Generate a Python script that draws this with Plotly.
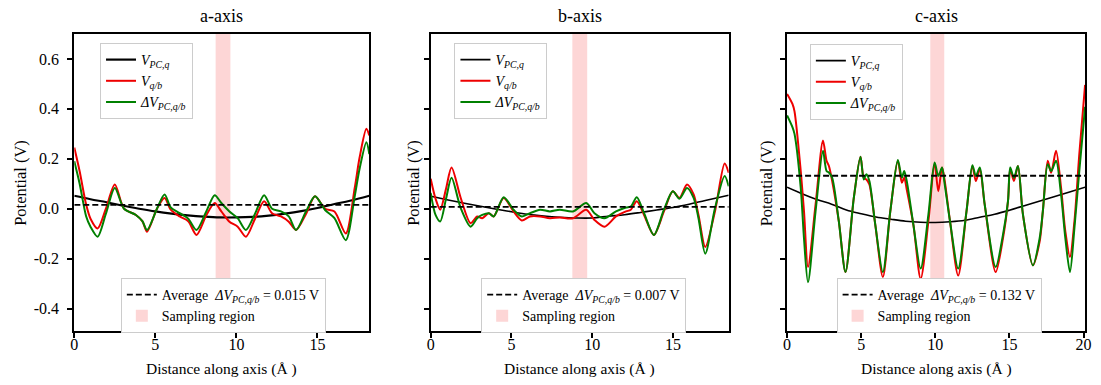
import plotly.graph_objects as go

# ---------------- data ----------------
y_tickvals = [-0.4, -0.2, 0.0, 0.2, 0.4, 0.6]
y_ticktext = ["-0.4", "-0.2", "0.0", "0.2", "0.4", "0.6"]

# a-axis
a_x = [0, 0.33, 0.73, 1.0, 1.44, 1.95, 2.5, 3.07, 3.8, 4.2, 4.49, 5.1, 5.57, 5.95, 6.5, 7.03, 7.54,
       8.15, 8.66, 9.07, 9.57, 10.08, 10.59, 11.15, 11.71, 12.2, 12.75, 13.23, 13.68, 14.3, 14.85,
       15.47, 16.05, 16.75, 17.3, 17.6, 18.02, 18.2]
a_red = [0.245, 0.15, 0.017, -0.04, -0.079, 0.0, 0.097, 0.0, -0.025, -0.05, -0.092, 0.0, 0.043, -0.004,
         -0.031, -0.05, -0.105, -0.025, 0.023, -0.011, -0.052, -0.072, -0.112, -0.04, 0.03, -0.018,
         -0.031, -0.052, -0.085, -0.02, 0.05, 0.0, -0.011, -0.099, 0.083, 0.205, 0.32, 0.293]
a_green = [0.19, 0.1, -0.03, -0.072, -0.112, -0.02, 0.083, 0.0, -0.025, -0.05, -0.085, 0.0, 0.057, 0.005,
           -0.018, -0.04, -0.085, -0.01, 0.054, 0.023, -0.011, -0.038, -0.085, -0.02, 0.054, 0.0,
           -0.011, -0.031, -0.085, -0.01, 0.05, -0.005, -0.038, -0.126, 0.05, 0.16, 0.266, 0.219]
a_pc_x = [0, 1, 2, 3, 4, 5, 6, 7, 8, 9, 10, 11, 12, 13, 14, 15, 16, 17, 18.2]
a_pc = [0.052, 0.038, 0.026, 0.012, 0.0, -0.011, -0.02, -0.027, -0.032, -0.035, -0.035, -0.033,
        -0.028, -0.02, -0.01, 0.003, 0.018, 0.032, 0.052]
a_avg = 0.015
a_len = 18.2
a_sample = [8.72, 9.63]

# b-axis
b_x = [0, 0.3, 0.59, 0.95, 1.29, 1.86, 2.47, 2.88, 3.19, 3.6, 3.9, 4.52, 5.13, 5.64, 6.15, 6.77, 7.38,
       7.99, 8.81, 9.63, 10.14, 10.76, 11.47, 12.09, 12.39, 12.76, 13.21, 13.82, 14.44, 14.99, 15.4,
       15.87, 16.28, 16.58, 17.0, 17.6, 18.2, 18.45]
b_red = [0.12, 0.04, -0.004, 0.08, 0.165, 0.043, -0.058, -0.031, -0.038, -0.018, -0.031, 0.043, -0.011,
         -0.047, -0.031, -0.031, -0.038, -0.035, -0.038, -0.004, -0.045, -0.072, -0.031, -0.011, -0.004,
         0.03, -0.025, -0.105, -0.011, 0.07, 0.043, 0.097, 0.057, -0.025, -0.153, -0.011, 0.181, 0.144]
b_green = [0.063, -0.025, -0.051, 0.04, 0.124, 0.002, -0.072, -0.038, -0.025, -0.018, -0.031, 0.046,
           -0.004, -0.031, -0.018, -0.004, -0.011, -0.004, -0.011, 0.023, -0.018, -0.038, -0.011, 0.005,
           0.009, 0.046, -0.018, -0.105, -0.004, 0.07, 0.04, 0.083, 0.043, -0.038, -0.18, 0.002, 0.131,
           0.09]
b_pc_x = [0, 1, 2, 3, 4, 5, 6, 7, 8, 9, 10, 11, 12, 13, 14, 15, 16, 17, 18.45]
b_pc = [0.05, 0.036, 0.023, 0.011, -0.001, -0.012, -0.022, -0.029, -0.034, -0.037, -0.037, -0.03,
        -0.024, -0.015, -0.005, 0.005, 0.018, 0.033, 0.054]
b_avg = 0.007
b_len = 18.45
b_sample = [8.77, 9.69]

# c-axis
c_x = [0, 0.36, 0.5, 0.92, 1.14, 1.41, 1.92, 2.42, 2.66, 2.82, 3.04, 3.49, 3.94, 4.5, 4.95, 5.17, 5.35,
       5.55, 5.95, 6.46, 6.96, 7.47, 7.74, 7.9, 8.07, 8.52, 9.01, 9.53, 9.95, 10.2, 10.45, 10.6, 10.99,
       11.54, 12.1, 12.5, 12.73, 13.0, 13.33, 14.07, 14.56, 14.9, 15.05, 15.3, 15.57, 15.91, 16.58,
       17.03, 17.25, 17.58, 17.81, 18.14, 18.48, 18.77, 19.08, 19.38, 19.71, 20.1]
c_red = [0.46, 0.42, 0.39, 0.151, -0.011, -0.234, 0.016, 0.273, 0.192, 0.171, 0.111, -0.051, -0.254,
         0.043, 0.208, 0.124, 0.117, 0.097, -0.065, -0.274, -0.011, 0.192, 0.104, 0.124, 0.077, -0.065,
         -0.281, -0.051, 0.18, 0.07, 0.165, 0.124, -0.051, -0.268, -0.011, 0.171, 0.111, 0.158, 0.016,
         -0.254, -0.119, 0.03, 0.158, 0.111, 0.171, -0.024, -0.227, -0.133, -0.011, 0.192, 0.144, 0.232,
         0.083, -0.092, -0.193, -0.051, 0.219, 0.496]
c_green = [0.374, 0.327, 0.3, 0.083, -0.119, -0.295, -0.011, 0.232, 0.151, 0.145, 0.124, -0.051, -0.254,
           0.043, 0.208, 0.117, 0.138, 0.111, -0.065, -0.254, -0.011, 0.195, 0.124, 0.151, 0.111, -0.065,
           -0.24, -0.024, 0.185, 0.131, 0.165, 0.111, -0.051, -0.24, -0.011, 0.174, 0.131, 0.165, 0.016,
           -0.234, -0.105, 0.03, 0.165, 0.124, 0.171, -0.024, -0.227, -0.12, -0.011, 0.178, 0.151, 0.192,
           0.056, -0.119, -0.254, -0.078, 0.151, 0.408]
c_pc_x = [0, 1, 2, 3, 4, 5, 6, 7, 8, 9, 10, 11, 12, 13, 14, 15, 16, 17, 18, 19, 20.1]
c_pc = [0.086, 0.06, 0.037, 0.018, -0.005, -0.02, -0.033, -0.042, -0.05, -0.054, -0.055, -0.052,
        -0.046, -0.034, -0.022, -0.006, 0.012, 0.03, 0.048, 0.066, 0.086]
c_avg = 0.132
c_len = 20.1
c_sample = [9.66, 10.6]

titles = ["a-axis", "b-axis", "c-axis"]

# ---------------- figure ----------------
W, H = 1101, 385
FONT = "Liberation Serif, Times New Roman, serif"
px_x = [(71, 369), (431, 732), (791, 1092)]
y_top, y_bot = 34, 331
up_leg_pos = [(97, 43), (455, 43), (814, 44)]
low_leg_pos = [(118, 278), (482, 278), (841, 278)]

panels = [
    (a_x, a_red, a_green, a_pc_x, a_pc, a_avg, a_len, a_sample),
    (b_x, b_red, b_green, b_pc_x, b_pc, b_avg, b_len, b_sample),
    (c_x, c_red, c_green, c_pc_x, c_pc, c_avg, c_len, c_sample),
]

fig = go.Figure()
lay = dict(
    width=W, height=H, margin=dict(l=0, r=0, t=0, b=0),
    paper_bgcolor="white", plot_bgcolor="white",
    font=dict(family=FONT, size=15, color="black"),
    annotations=[],
)

lbl_pc = "<i>V</i><sub><i>PC,q</i></sub>"
lbl_qb = "<i>V</i><sub><i>q/b</i></sub>"
lbl_dv = "<i>ΔV</i><sub><i>PC,q/b</i></sub>"

for i, (xs, red, green, pcx, pc, avg, L, samp) in enumerate(panels):
    n = "" if i == 0 else str(i + 1)
    xa, ya = "x" + n, "y" + n
    up = "legend" if i == 0 else "legend" + str(2 * i + 1)
    lo = "legend" + str(2 * i + 2)
    fig.add_trace(go.Scatter(x=pcx, y=pc, mode="lines", name=lbl_pc, xaxis=xa, yaxis=ya,
                             line=dict(color="black", width=1.6 if i else 2.2, shape="spline"), legend=up))
    fig.add_trace(go.Scatter(x=xs, y=red, mode="lines", name=lbl_qb, xaxis=xa, yaxis=ya,
                             line=dict(color="#ee0000", width=2, shape="spline", smoothing=0.8), legend=up))
    fig.add_trace(go.Scatter(x=xs, y=green, mode="lines", name=lbl_dv, xaxis=xa, yaxis=ya,
                             line=dict(color="#008000", width=2, shape="spline", smoothing=0.8), legend=up))
    fig.add_trace(go.Scatter(x=[0, L], y=[avg, avg], mode="lines", xaxis=xa, yaxis=ya,
                             name=f"Average  {lbl_dv} = {avg:.3f} V",
                             line=dict(color="black", width=1.8, dash="6px,3px"), legend=lo, legendrank=1))
    fig.add_shape(type="rect", xref=xa, yref=ya + " domain", x0=samp[0], x1=samp[1], y0=0, y1=1,
                  fillcolor="#fdd6d6", line=dict(width=0), layer="below",
                  showlegend=True, name="Sampling region", legend=lo, legendrank=2)

    x0p, x1p = px_x[i]
    lay["xaxis" + n] = dict(
        domain=[x0p / W, x1p / W], anchor=ya, range=[0, L], tickvals=[0, 5, 10, 15, 20],
        showgrid=False, zeroline=False, showline=True, linecolor="black", linewidth=2, mirror=True,
        ticks="outside", ticklen=5, tickwidth=1.5, tickcolor="black", ticklabelstandoff=-7,
        tickfont=dict(family=FONT, size=16),
    )
    lay["yaxis" + n] = dict(
        domain=[1 - y_bot / H, 1 - y_top / H], anchor=xa, range=[-0.49, 0.70],
        tickvals=y_tickvals, ticktext=y_ticktext if i == 0 else [""] * len(y_tickvals),
        showgrid=False, zeroline=False, showline=True, linecolor="black", linewidth=2, mirror=True,
        ticks="outside", ticklen=5, tickwidth=1.5, tickcolor="black", ticklabelstandoff=5,
        tickfont=dict(family=FONT, size=16),
    )
    ux, uy = up_leg_pos[i]
    lx, ly = low_leg_pos[i]
    legstyle = dict(bgcolor="white", bordercolor="#cccccc", borderwidth=1,
                    font=dict(family=FONT, size=14), xanchor="left", yanchor="top",
                    xref="paper", yref="paper", tracegroupgap=0)
    lay[up] = dict(x=ux / W, y=1 - uy / H, **legstyle)
    lay[lo] = dict(x=lx / W, y=1 - ly / H, **legstyle)

    cx = (x0p + x1p) / 2 / W
    lay["annotations"].append(dict(text=titles[i], x=cx, y=1 - 16 / H, xref="paper", yref="paper",
                                   showarrow=False, font=dict(family=FONT, size=18),
                                   xanchor="center", yanchor="middle"))
    lay["annotations"].append(dict(text="Distance along axis (Å )", x=cx, y=1 - 369 / H,
                                   xref="paper", yref="paper", showarrow=False,
                                   font=dict(family=FONT, size=15.5), xanchor="center", yanchor="middle"))
    ytx = [16, 413, 770][i]
    lay["annotations"].append(dict(text="Potential (V)", x=ytx / W, y=1 - 183 / H, textangle=-90,
                                   xref="paper", yref="paper", showarrow=False,
                                   font=dict(family=FONT, size=16.5), xanchor="center", yanchor="middle"))

fig.update_layout(**lay)
fig.write_html("out.html")
